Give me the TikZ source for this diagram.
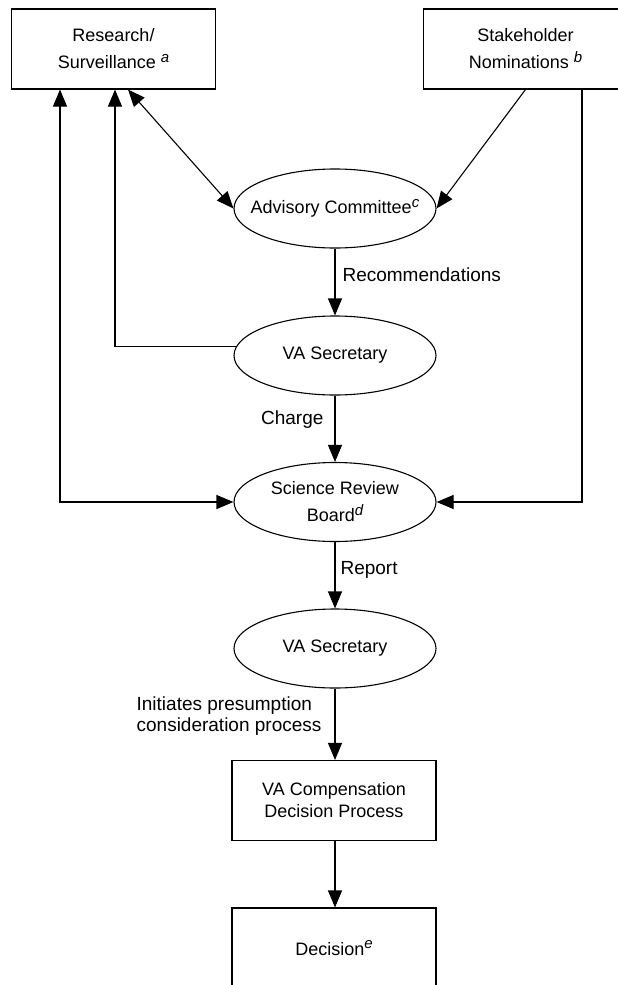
\documentclass[tikz,border=0pt]{standalone}
\usepackage{fontspec}
\setmainfont{Liberation Sans}
\usetikzlibrary{arrows.meta,shapes.geometric}
\newcommand{\supit}[1]{\raisebox{6.5pt}{\fontsize{15}{15}\selectfont\itshape #1}}
\begin{document}
\begin{tikzpicture}[x=1pt,y=-1pt, line width=1.1pt,
  >={Triangle[length=17pt,width=14pt]},
  box/.style={draw, rectangle, minimum width=204pt, minimum height=80pt, inner sep=0pt, align=center, font=\fontsize{18}{27}\selectfont},
  ell/.style={draw, ellipse, minimum width=202pt, minimum height=79pt, inner sep=0pt},
  nfont/.style={font=\fontsize{18}{27}\selectfont, align=center, inner sep=0pt},
  lbl/.style={font=\fontsize{19}{21}\selectfont, inner sep=0pt}]
\useasboundingbox (0,0) rectangle (618,985);
% boxes
\node[box] (res) at (113.5,49) {Research/\\Surveillance \supit{a}};
\node[box] (stk) at (525.5,49) {Stakeholder\\Nominations \supit{b}};
\node[box, font=\fontsize{18}{22}\selectfont] (comp) at (334,800.5) {VA Compensation\\Decision Process};
\node[box] (dec) at (334,948) {Decision\supit{e}};
% ellipses
\node[ell, label={[nfont]center:Advisory Committee\supit{c}}] (adv) at (335,208.5) {};
\node[ell, label={[nfont]center:VA Secretary}] (sec1) at (335,355.5) {};
\node[ell, label={[nfont]center:Science Review\\Board\supit{d}}] (srb) at (335,502) {};
\node[ell, label={[nfont]center:VA Secretary}] (sec2) at (335,648.5) {};
% labels
\node[lbl, anchor=west] (rec) at (342,275) {Recommendations};
\node[lbl, anchor=east] (chg) at (324,420) {Charge};
\node[lbl, anchor=west] (rep) at (340,570) {Report};
\node[lbl, anchor=east, align=left] (ini) at (322,716.5) {Initiates presumption\\consideration process};
% connectors
\draw[<->] ([xshift=14.5pt]res.south) -- (adv.west);
\draw[->] (stk.south) -- (adv.east);
\draw[<->] ([xshift=-53.5pt]res.south) |- (srb.west);
\draw[->] (sec1.175) -| ([xshift=1.5pt]res.south);
\draw[->] ([xshift=56.5pt]stk.south) |- (srb.east);
\draw[->] (adv.south) -- (sec1.north);
\draw[->] (sec1.south) -- (srb.north);
\draw[->] (srb.south) -- (sec2.north);
\draw[->] (sec2.south) -- ([xshift=1pt]comp.north);
\draw[->] ([xshift=1pt]comp.south) -- ([xshift=1pt]dec.north);
\end{tikzpicture}
\end{document}
